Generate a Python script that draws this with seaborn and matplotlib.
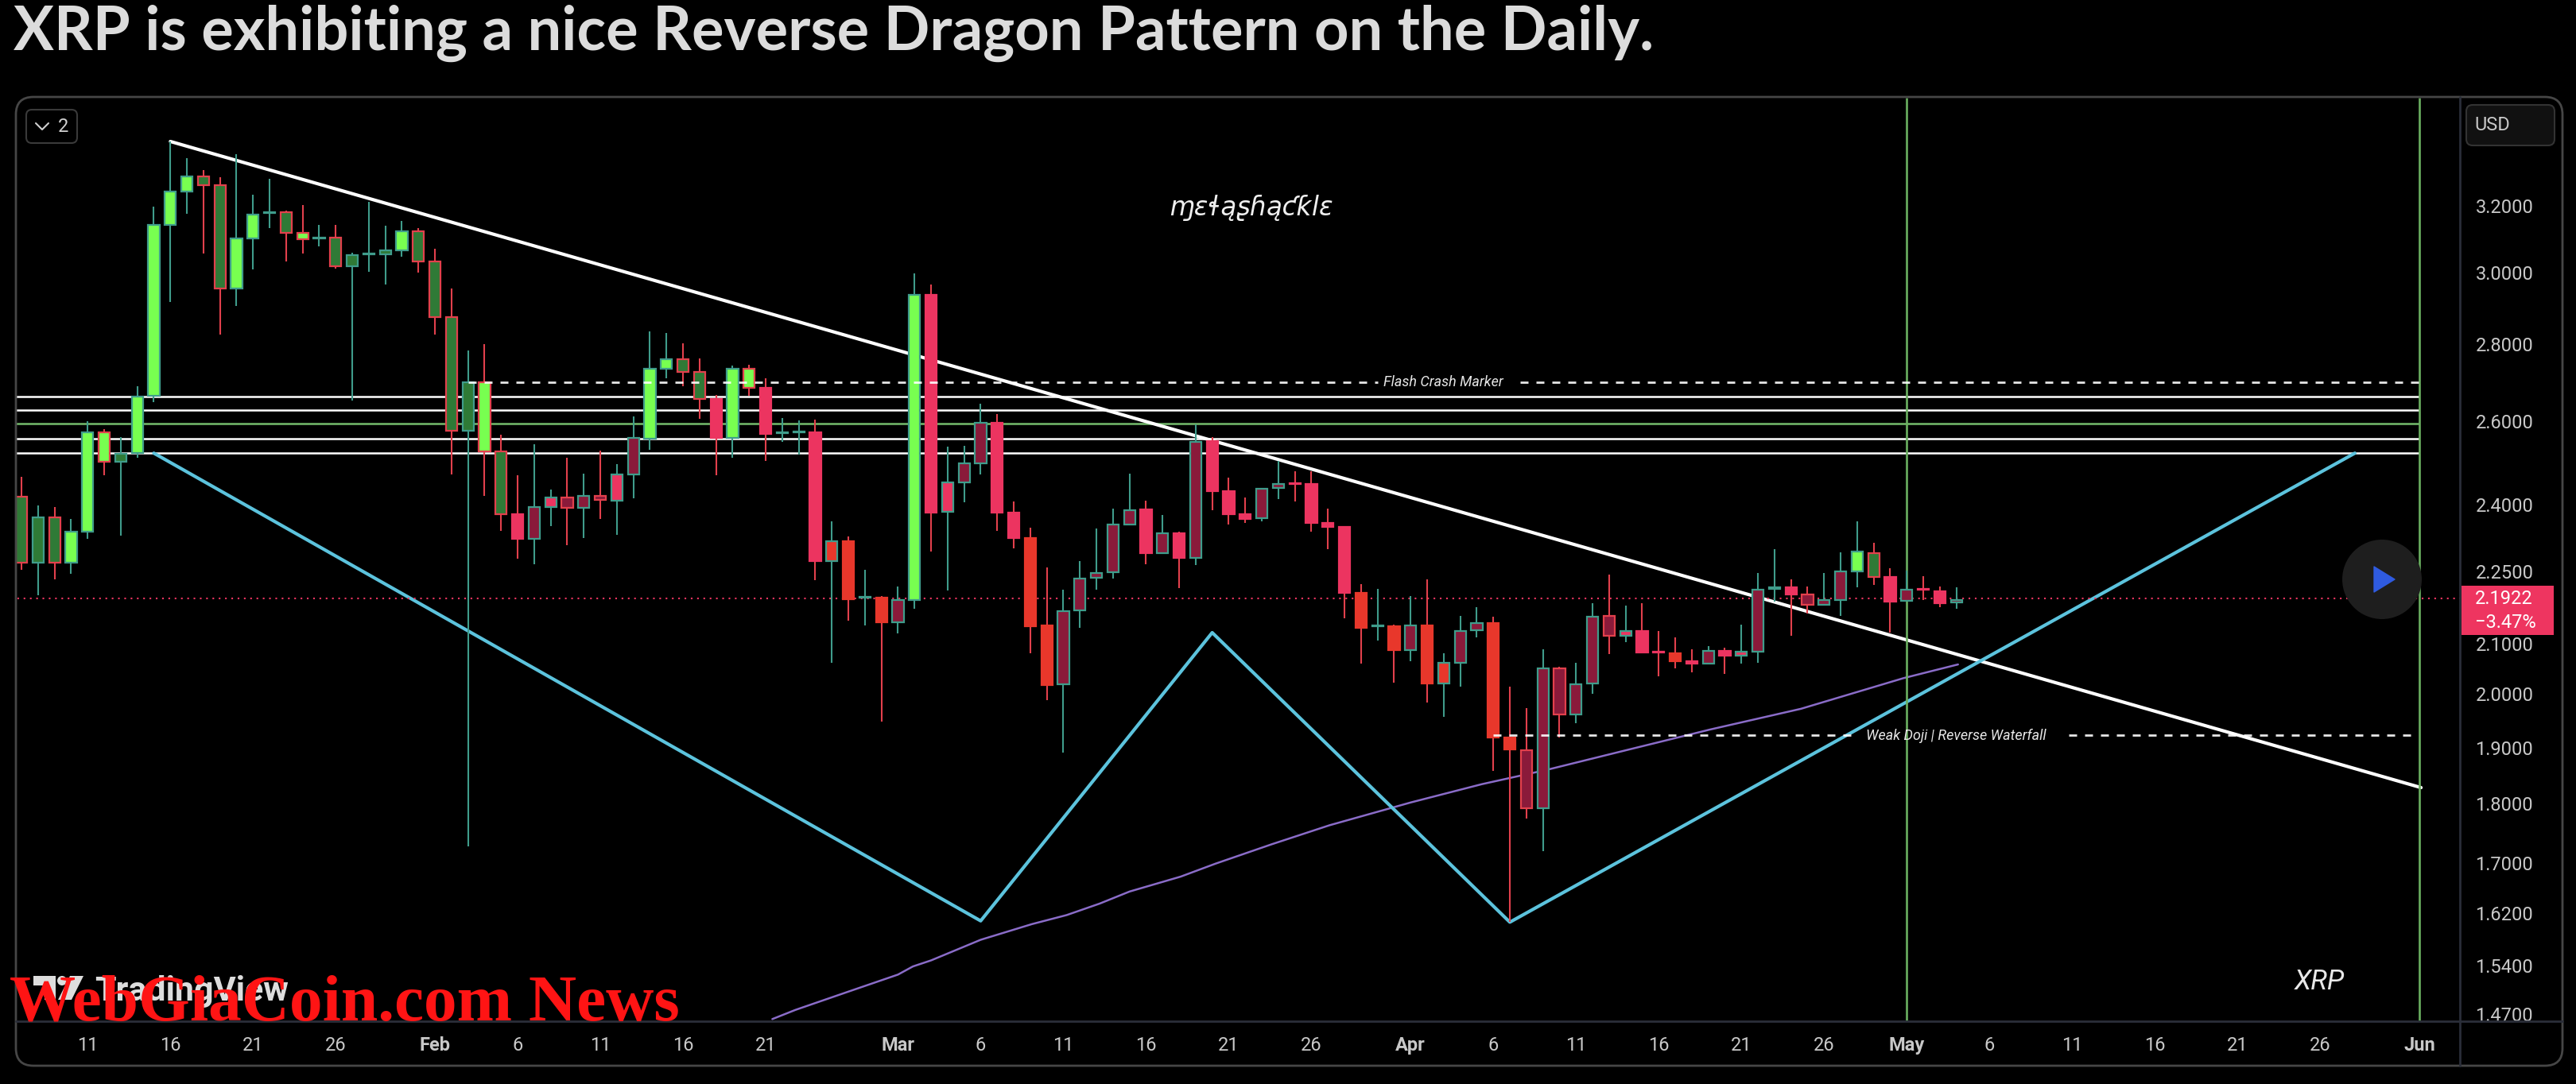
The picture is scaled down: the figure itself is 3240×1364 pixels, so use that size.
import matplotlib
matplotlib.use('Agg')
import matplotlib.pyplot as plt
from matplotlib.patches import Rectangle, FancyBboxPatch, Ellipse, Polygon
from matplotlib.lines import Line2D
from matplotlib.ticker import NullLocator
from matplotlib.transforms import IdentityTransform
import pandas as pd
import seaborn as sns

W, H = 3240, 1364

# Daily candles, first one is Jan 7
highs = [2.466, 2.398, 2.394, 2.367, 2.600, 2.581, 2.562, 2.689, 3.198, 3.404,
         3.350, 3.312, 3.288, 3.363, 3.235, 3.285, 3.185, 3.202, 3.142, 3.142,
         3.059, 3.212, 3.140, 3.153, 3.131, 3.071, 2.954, 2.783, 2.800, 2.568,
         2.469, 2.543, 2.435, 2.510, 2.472, 2.528, 2.496, 2.612, 2.836, 2.832,
         2.804, 2.762, 2.667, 2.744, 2.746, 2.711, 2.609, 2.602, 2.605, 2.362,
         2.328, 2.255, 2.198, 2.218, 2.999, 2.967, 2.537, 2.539, 2.644, 2.618,
         2.408, 2.348, 2.260, 2.212, 2.273, 2.346, 2.390, 2.473, 2.410, 2.377,
         2.338, 2.592, 2.561, 2.464, 2.416, 2.439, 2.504, 2.479, 2.478, 2.390,
         2.351, 2.223, 2.213, 2.138, 2.198, 2.234, 2.081, 2.157, 2.175, 2.155,
         2.014, 1.974, 2.089, 2.053, 2.062, 2.183, 2.243, 2.178, 2.183, 2.126,
         2.113, 2.088, 2.095, 2.092, 2.139, 2.248, 2.300, 2.234, 2.219, 2.248,
         2.293, 2.361, 2.314, 2.258, 2.253, 2.241, 2.219, 2.216]
body_tops = [2.419, 2.370, 2.370, 2.338, 2.573, 2.573, 2.521, 2.664, 3.141, 3.244,
             3.292, 3.292, 3.265, 3.100, 3.173, 3.180, 3.179, 3.117, 3.102, 3.104,
             3.051, 3.055, 3.065, 3.122, 3.123, 3.032, 2.874, 2.701, 2.699, 2.526,
             2.378, 2.394, 2.416, 2.416, 2.421, 2.421, 2.470, 2.559, 2.736, 2.760,
             2.760, 2.727, 2.656, 2.735, 2.735, 2.685, 2.573, 2.575, 2.573, 2.317,
             2.317, 2.196, 2.194, 2.189, 2.937, 2.937, 2.452, 2.497, 2.597, 2.597,
             2.381, 2.325, 2.137, 2.167, 2.236, 2.248, 2.354, 2.388, 2.389, 2.335,
             2.335, 2.549, 2.551, 2.432, 2.378, 2.437, 2.448, 2.451, 2.448, 2.358,
             2.349, 2.204, 2.137, 2.135, 2.137, 2.137, 2.061, 2.126, 2.142, 2.142,
             1.918, 1.895, 2.050, 2.050, 2.019, 2.154, 2.156, 2.125, 2.125, 2.084,
             2.081, 2.065, 2.085, 2.085, 2.083, 2.212, 2.217, 2.216, 2.202, 2.189,
             2.250, 2.294, 2.291, 2.238, 2.211, 2.213, 2.208, 2.189]
body_bottoms = [2.269, 2.269, 2.270, 2.270, 2.339, 2.502, 2.502, 2.522, 2.665, 3.142,
                3.245, 3.265, 2.955, 2.955, 3.100, 3.178, 3.117, 3.099, 3.100, 3.018,
                3.018, 3.053, 3.053, 3.066, 3.032, 2.875, 2.577, 2.577, 2.527, 2.378,
                2.322, 2.323, 2.395, 2.392, 2.392, 2.411, 2.410, 2.471, 2.558, 2.736,
                2.727, 2.656, 2.559, 2.559, 2.685, 2.569, 2.571, 2.573, 2.274, 2.274,
                2.192, 2.194, 2.143, 2.143, 2.189, 2.382, 2.383, 2.452, 2.497, 2.381,
                2.324, 2.135, 2.018, 2.019, 2.168, 2.237, 2.249, 2.354, 2.290, 2.291,
                2.281, 2.281, 2.431, 2.378, 2.368, 2.369, 2.438, 2.449, 2.358, 2.349,
                2.204, 2.132, 2.135, 2.086, 2.087, 2.021, 2.021, 2.062, 2.127, 1.918,
                1.896, 1.792, 1.792, 1.962, 1.961, 2.020, 2.116, 2.116, 2.082, 2.082,
                2.065, 2.060, 2.060, 2.076, 2.076, 2.084, 2.213, 2.202, 2.179, 2.180,
                2.190, 2.251, 2.238, 2.187, 2.188, 2.211, 2.183, 2.184]
lows = [2.255, 2.199, 2.233, 2.245, 2.323, 2.468, 2.329, 2.511, 2.648, 2.917,
        3.175, 3.057, 2.827, 2.905, 3.009, 3.131, 3.033, 3.056, 3.076, 3.011,
        2.653, 3.003, 2.966, 3.046, 3.000, 2.827, 2.470, 1.727, 2.420, 2.340,
        2.279, 2.266, 2.351, 2.309, 2.324, 2.368, 2.331, 2.414, 2.530, 2.711,
        2.689, 2.606, 2.469, 2.511, 2.665, 2.504, 2.549, 2.519, 2.232, 2.062,
        2.147, 2.137, 1.948, 2.120, 2.172, 2.294, 2.210, 2.405, 2.470, 2.341,
        2.301, 2.081, 1.989, 1.890, 2.131, 2.212, 2.235, 2.352, 2.266, 2.290,
        2.215, 2.264, 2.387, 2.354, 2.358, 2.362, 2.412, 2.407, 2.338, 2.299,
        2.151, 2.060, 2.106, 2.022, 2.065, 1.984, 1.957, 2.015, 2.112, 1.858,
        1.606, 1.774, 1.719, 1.919, 1.945, 2.001, 2.079, 2.102, 2.082, 2.034,
        2.051, 2.042, 2.058, 2.039, 2.059, 2.062, 2.187, 2.116, 2.161, 2.180,
        2.157, 2.217, 2.221, 2.122, 2.187, 2.189, 2.175, 2.171]
directions = ('rtrttrtttt' 'trrtttrrtr' 'ttttrrrtrr' 'rttrtrtttt' 'rrrtrrttrt'
              'rtrttrtttr' 'rrrtttttrt' 'rtrrrttrrr' 'rrtrtrtttr' 'rrtrttrtrr'
              'rrtrtttrrt' 'ttrrtrrt')
body_kinds = ('GGGBBBGBBB' 'BGGBBGGBGG' 'GGGBGGGGBG' 'CMCMMMCMBB' 'GGCBBCMMCR'
              'RMRMBCCMMC' 'CRRMMMMMCM' 'CMCCCMMCCC' 'CRMRMRRMMR' 'RMMMMMMCCC'
              'RCMCCMMCMM' 'MBGCMCCM')

# Moving average, read at a few days
ma_days = [45.4, 46.8, 50.1, 53.0, 53.9, 55.0, 58.0, 61.1, 63.2, 65.2, 67.0, 70.1,
           72.2, 75.6, 79.1, 84.0, 88.3, 92.3, 96.9, 102.1, 107.6, 113.8, 117.1]
ma_prices = [1.463, 1.476, 1.503, 1.527, 1.539, 1.548, 1.579, 1.603, 1.617, 1.635,
             1.654, 1.678, 1.699, 1.731, 1.763, 1.802, 1.834, 1.860, 1.894, 1.933,
             1.972, 2.031, 2.058]

# Drawn lines
trend_days = [9, 145.1]
trend_prices = [3.404, 1.828]
pattern_days = [8, 58, 72, 90, 141.1]
pattern_prices = [2.522, 1.608, 2.122, 1.606, 2.522]
white_levels = [2.664, 2.629, 2.557, 2.522]
green_level = 2.594
flash_price = 2.70
weak_price = 1.922
last_price = 2.1922
vline_days = [114, 145]

price_ticks = [3.2, 3.0, 2.8, 2.6, 2.4, 2.25, 2.1, 2.0, 1.9, 1.8, 1.7, 1.62, 1.54, 1.47]
date_ticks = ['2025-01-11', '2025-01-16', '2025-01-21', '2025-01-26', '2025-02-01',
              '2025-02-06', '2025-02-11', '2025-02-16', '2025-02-21', '2025-03-01',
              '2025-03-06', '2025-03-11', '2025-03-16', '2025-03-21', '2025-03-26',
              '2025-04-01', '2025-04-06', '2025-04-11', '2025-04-16', '2025-04-21',
              '2025-04-26', '2025-05-01', '2025-05-06', '2025-05-11', '2025-05-16',
              '2025-05-21', '2025-05-26', '2025-06-01']

FILLS = {'B': '#78FF50', 'G': '#2F7A36', 'C': '#EC3460', 'M': '#8A1A3A', 'R': '#E8372B'}
TEAL = '#3F9C8B'
RED = '#E2404C'

sns.set_theme(style='dark', rc={
    'figure.facecolor': 'black',
    'axes.facecolor': 'black',
    'savefig.facecolor': 'black',
    'axes.grid': False,
})
plt.rcParams['font.family'] = ['Roboto', 'DejaVu Sans']

fig = plt.figure(figsize=(W / 100, H / 100), dpi=100)
ax = fig.add_axes([20 / W, (H - 1285) / H, 3074 / W, (1285 - 122.7) / H])
ax.set_yscale('log')
ax.set_xlim(-0.34, 147.45)
ax.set_ylim(1.460, 3.551)
for spine in ax.spines.values():
    spine.set_visible(False)

# Levels and drawn lines, these sit under the candles
ax.hlines(white_levels, -1, 145, color='white', lw=1.8, zorder=1)
ax.hlines(green_level, -1, 145, color='#74BC6C', lw=1.8, zorder=1)

sns.lineplot(x=ma_days, y=ma_prices, estimator=None, sort=False, ax=ax,
             color='#8A6CC8', lw=1.8, zorder=1.5, legend=False)
sns.lineplot(x=trend_days, y=trend_prices, estimator=None, sort=False, ax=ax,
             color='white', lw=3, zorder=1.5, legend=False)
sns.lineplot(x=pattern_days, y=pattern_prices, estimator=None, sort=False, ax=ax,
             color='#5CC3DD', lw=3, zorder=1.5, legend=False)

ax.hlines(last_price, -1, 148, color='#EE3560', lw=1.5, linestyles=(0, (1, 2.8)), zorder=1.6)

# Candles
candles = pd.DataFrame({
    'day': range(len(highs)), 'high': highs, 'low': lows,
    'top': body_tops, 'bottom': body_bottoms,
    'direction': list(directions), 'kind': list(body_kinds),
})
candles['line'] = candles['direction'].map({'t': TEAL, 'r': RED})
candles['fill'] = candles['kind'].map(FILLS)
# red bodies in crimson or red have no border of their own
plain = (candles['direction'] == 'r') & candles['kind'].isin(['C', 'R'])
candles['edge'] = candles['fill'].where(plain, candles['line'])
ax.vlines(candles['day'], candles['low'], candles['high'], colors=candles['line'], lw=1.5, zorder=3)
ax.bar(candles['day'], candles['top'] - candles['bottom'], bottom=candles['bottom'], width=0.68,
       color=candles['fill'], edgecolor=candles['edge'], linewidth=1.6, zorder=4)

ax.vlines(vline_days, 1.46, 3.551, color='#6BB061', lw=1.9, zorder=2.5)

# Dashed markers with their labels in the gap
dash = (0, (3.6, 3.6))
ax.hlines([flash_price, flash_price], [27, 90.6], [82, 145], color='white', lw=2, linestyles=dash,
          alpha=0.9, zorder=5)
ax.hlines([weak_price, weak_price], [89, 123.8], [110.8, 144.5], color='white', lw=2, linestyles=dash,
          alpha=0.9, zorder=5)
ax.text(86, flash_price, 'Flash Crash Marker', color='#E6E6E6', fontsize=13, style='italic',
        ha='center', va='center', zorder=6)
ax.text(117, weak_price, 'Weak Doji | Reverse Waterfall', color='#E6E6E6', fontsize=13, style='italic',
        ha='center', va='center', zorder=6)

# Axes ticks
ax.yaxis.tick_right()
ax.set_yticks(price_ticks)
ax.set_yticklabels([f'{p:.4f}' for p in price_ticks])
ax.yaxis.set_minor_locator(NullLocator())
ax.tick_params(axis='y', length=0, pad=14, labelsize=17, labelcolor='#C8C8C8')

tick_dates = pd.to_datetime(date_ticks)
first_day = pd.Timestamp('2025-01-07')
ax.set_xticks([(d - first_day).days for d in tick_dates])
names = {2: 'Feb', 3: 'Mar', 4: 'Apr', 5: 'May', 6: 'Jun'}
ax.set_xticklabels([names[d.month] if d.day == 1 else str(d.day) for d in tick_dates])
ax.tick_params(axis='x', length=0, pad=14, labelsize=17, labelcolor='#C8C8C8')
for d, lab in zip(tick_dates, ax.get_xticklabels()):
    if d.day == 1:
        lab.set_fontweight('bold')


# Everything below is the page around the chart, in pixels from the top left
def put_text(x, y, s, **kw):
    kw.setdefault('va', 'center')
    return fig.text(x, H - y, s, transform=IdentityTransform(), **kw)


def px_rect(x0, y0, x1, y1, **kw):
    fig.add_artist(Rectangle((x0, H - y1), x1 - x0, y1 - y0, transform=IdentityTransform(), **kw))


def px_box(x0, y0, x1, y1, radius, **kw):
    fig.add_artist(FancyBboxPatch((x0 + radius, H - y1 + radius), x1 - x0 - 2 * radius, y1 - y0 - 2 * radius,
                                  boxstyle=f'round,pad={radius},rounding_size={radius}',
                                  transform=IdentityTransform(), **kw))


def px_line(xs, ys, **kw):
    fig.add_artist(Line2D(xs, [H - y for y in ys], transform=IdentityTransform(), **kw))


put_text(17, 42, 'XRP is exhibiting a nice Reverse Dragon Pattern on the Daily.', family='Lato',
         fontweight='bold', fontsize=54.6, color='#DCDCDC', va='center')

px_rect(3096, 1286, 3221, 1305, fc='black', ec='none')
px_box(20, 122, 3223, 1341, 22, fc='none', ec='#464646', lw=2)
px_line([20, 3223], [1285, 1285], color='#2A2E39', lw=2)
px_line([3094, 3094], [122, 1341], color='#2A2E39', lw=2)

# series button and currency button
px_box(33, 138, 97, 180, 7, fc='black', ec='#3A3A3A', lw=1.5)
px_line([45, 53, 61], [155, 163, 155], color='#D0D0D0', lw=1.5)
put_text(80, 160, '2', color='#D0D0D0', fontsize=17, ha='center')
px_box(3102, 132, 3213, 183, 8, fc='#111111', ec='#333333', lw=1.5)
put_text(3112, 158, 'USD', color='#C8C8C8', fontsize=17)

# last price label
px_rect(3096, 737, 3212, 799, fc='#EE3560', ec='none')
put_text(3113, 753, '2.1922', color='white', fontsize=17)
put_text(3113, 783, '\u22123.47%', color='white', fontsize=17)

# play button
fig.add_artist(Ellipse((2996, H - 729), 100, 100, fc='#1E1E1E', ec='none', transform=IdentityTransform()))
fig.add_artist(Polygon([(2986, H - 713), (3012, H - 729), (2986, H - 745)], closed=True, fc='#2F5BE0',
                       ec='#2F5BE0', lw=1, joinstyle='round', transform=IdentityTransform()))

# signature, symbol and the TradingView mark
put_text(1574, 262, '\u0271\u025b\u026c\u0105\u0282\u0266\u0105\u0188\u0199l\u025b', family='DejaVu Sans',
         style='italic', color='#EFEFEF', fontsize=23.5, ha='center')
put_text(2917, 1235, 'XRP', color='#E8E8E8', fontsize=25, style='italic', ha='center')
px_rect(42, 1228, 70, 1240, fc='#DDDDDD', ec='none')
px_rect(56, 1228, 70, 1258, fc='#DDDDDD', ec='none')
fig.add_artist(Ellipse((78, H - 1234), 12, 12, fc='#DDDDDD', ec='none', transform=IdentityTransform()))
fig.add_artist(Polygon([(88, H - 1228), (105, H - 1228), (90, H - 1258), (73, H - 1258)], closed=True,
                       fc='#DDDDDD', ec='none', transform=IdentityTransform()))
put_text(119, 1247, 'TradingView', color='#DDDDDD', fontsize=31, fontweight='bold')

put_text(12, 1264, 'WebGiaCoin.com News', family='Liberation Serif', fontweight='bold', fontsize=60,
         color='#FF1414')

fig.savefig('out.png', dpi=100)
